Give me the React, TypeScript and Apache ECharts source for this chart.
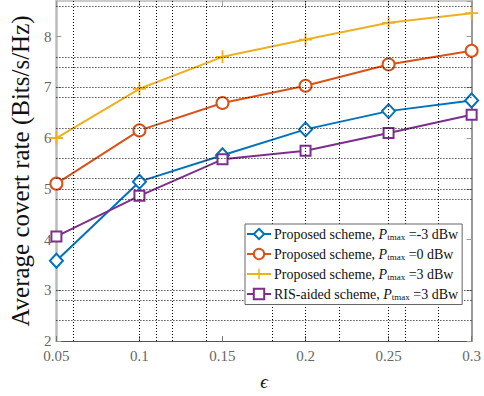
import React, { useEffect, useRef } from "react";
import * as echarts from "echarts";

const xVals = [0.05, 0.1, 0.15, 0.2, 0.25, 0.3];
const blueVals = [3.58, 5.14, 5.66, 6.17, 6.53, 6.74];
const redVals = [5.1, 6.15, 6.69, 7.03, 7.45, 7.72];
const yellowVals = [6.0, 6.97, 7.6, 7.94, 8.27, 8.46];
const purpleVals = [4.06, 4.86, 5.58, 5.75, 6.1, 6.46];

const schemes = ["Proposed scheme", "Proposed scheme", "Proposed scheme", "RIS-aided scheme"];
const powers = ["-3", "0", "3", "3"];
const seriesNames = schemes.map((s, i) => `${s}, Ptmax =${powers[i]} dBw`);

const gridX = [0.06, 0.1, 0.11, 0.12, 0.14, 0.18, 0.2, 0.22, 0.25, 0.26, 0.28];
const gridY = [8.6, 7.6, 7.4, 7.0, 6.8, 6.2, 5.6, 5.2, 5.0, 4.8, 3.0, 2.8, 2.4];

const yTitle = "Average covert rate (Bits/s/Hz)";
const xTitle = "ϵ";

const colors = ["#0072BD", "#D95319", "#EDB120", "#7E2F8E"];
const FONT = "'Liberation Serif', 'Times New Roman', serif";
const PLUS = "path://M4.3,0 H5.7 V4.3 H10 V5.7 H5.7 V10 H4.3 V5.7 H0 V4.3 H4.3 Z";

export default function App() {
  const ref = useRef<HTMLDivElement>(null);
  useEffect(() => {
    document.body.style.margin = "0";
    const chart = echarts.init(ref.current!, undefined, { renderer: "svg" });
    const allVals = [blueVals, redVals, yellowVals, purpleVals];
    const symbols = ["emptyDiamond", "emptyCircle", PLUS, "emptyRect"];
    const sizes: any[] = [[13, 14], 12, 13, 10];
    const dataSeries = allVals.map((vals, i) => ({
      name: seriesNames[i],
      type: "line",
      data: xVals.map((x, j) => [x, vals[j]]),
      symbol: symbols[i],
      symbolSize: sizes[i],
      showAllSymbol: true,
      z: 3,
      lineStyle: { color: colors[i], width: 2 },
      itemStyle: i === 2
        ? { color: colors[i], borderColor: colors[i], borderWidth: 0 }
        : { color: colors[i], borderColor: colors[i], borderWidth: 2 },
    }));
    const option: any = {
      animation: false,
      textStyle: { fontFamily: FONT },
      grid: { left: 36, top: 1, right: 10, bottom: 44 },
      xAxis: [
        {
          type: "value",
          min: 0.05,
          max: 0.3,
          interval: 0.05,
          position: "bottom",
          name: xTitle,
          nameLocation: "middle",
          nameGap: 31,
          nameTextStyle: { fontFamily: FONT, fontSize: 19, color: "#111", fontStyle: "italic" },
          axisLine: { show: true, lineStyle: { color: "#555", width: 1.2 } },
          axisTick: { show: true, inside: true, length: 5, lineStyle: { color: "#777" } },
          axisLabel: {
            fontFamily: FONT,
            fontSize: 15,
            color: "#666",
            margin: 7,
            formatter: (v: number) => String(+v.toFixed(2)),
          },
          splitLine: { show: false },
        },
        {
          type: "value",
          min: 0.05,
          max: 0.3,
          interval: 0.05,
          position: "top",
          axisLine: { show: true, lineStyle: { color: "#bbb", width: 1.5 } },
          axisTick: { show: true, inside: true, length: 5, lineStyle: { color: "#999" } },
          axisLabel: { show: false },
          splitLine: { show: false },
        },
      ],
      yAxis: [
        {
          type: "value",
          min: 2,
          max: 8.7,
          interval: 1,
          position: "left",
          name: yTitle,
          nameLocation: "middle",
          nameGap: 19,
          nameTextStyle: { fontFamily: FONT, fontSize: 25, color: "#111" },
          axisLine: { show: true, lineStyle: { color: "#bbb", width: 2.5 } },
          axisTick: { show: true, inside: true, length: 5, lineStyle: { color: "#999" } },
          axisLabel: {
            fontFamily: FONT,
            fontSize: 15,
            color: "#666",
            margin: 5,
            showMaxLabel: false,
            formatter: (v: number) => (Number.isInteger(v) ? String(v) : ""),
          },
          splitLine: { show: false },
        },
        {
          type: "value",
          min: 2,
          max: 8.7,
          interval: 1,
          position: "right",
          axisLine: { show: true, lineStyle: { color: "#999", width: 2 } },
          axisTick: { show: true, inside: true, length: 5, lineStyle: { color: "#999" } },
          axisLabel: { show: false },
          splitLine: { show: false },
        },
      ],
      legend: {
        data: seriesNames,
        orient: "vertical",
        left: 245,
        top: 224,
        backgroundColor: "#fff",
        borderColor: "#666",
        borderWidth: 1,
        borderRadius: 0,
        padding: [3, 4, 3, 1],
        itemWidth: 24,
        itemHeight: 13,
        itemGap: 5.5,
        z: 10,
        formatter: (name: string) => {
          const i = seriesNames.indexOf(name);
          return `{t|${schemes[i]}, }{p|P}{s|tmax}{t| =${powers[i]} dBw}`;
        },
        textStyle: {
          fontFamily: FONT,
          fontSize: 14,
          color: "#111",
          padding: [0, 0, 0, -2],
          rich: {
            t: { fontFamily: FONT, fontSize: 14, color: "#111", lineHeight: 15, verticalAlign: "middle" },
            p: { fontFamily: FONT, fontSize: 14, color: "#111", fontStyle: "italic", lineHeight: 15, verticalAlign: "middle" },
            s: { fontFamily: FONT, fontSize: 9, color: "#111", lineHeight: 10, verticalAlign: "bottom", padding: [0, 0, 0, 0] },
          },
        },
      },
      series: [
        {
          name: "grid",
          type: "line",
          data: [],
          z: 1,
          silent: true,
          markLine: {
            silent: true,
            symbol: "none",
            label: { show: false },
            lineStyle: { color: "#000", width: 1, type: [1, 2] },
            data: [
              ...gridX.map((v) => ({ xAxis: v })),
              ...gridY.map((v) => ({ yAxis: v })),
            ],
          },
        },
        ...dataSeries,
      ],
    };
    chart.setOption(option);
    return () => chart.dispose();
  }, []);
  return <div ref={ref} style={{ width: 484, height: 396 }} />;
}
